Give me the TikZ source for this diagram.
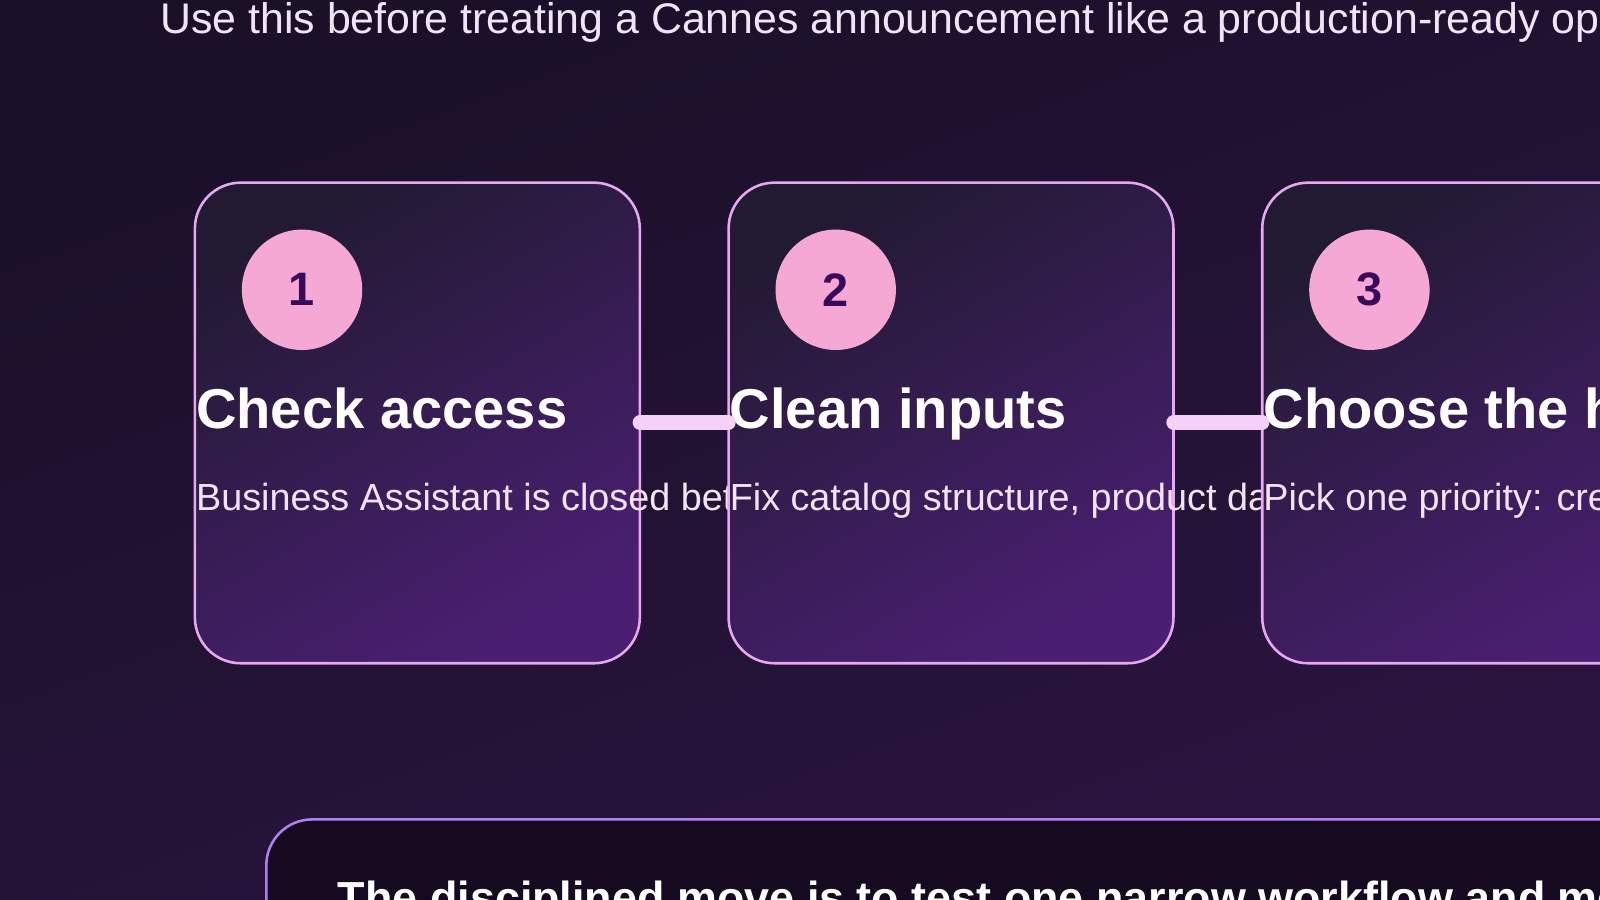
\documentclass[tikz,border=0pt]{standalone}
\usepackage{fontspec}
\setmainfont{Liberation Sans}
\usetikzlibrary{positioning}
\definecolor{bgdark}{HTML}{1A1028}
\definecolor{bgmid}{HTML}{2A1440}
\definecolor{cardtl}{HTML}{221A33}
\definecolor{cardbr}{HTML}{4A1F72}
\definecolor{cardline}{HTML}{E8A8F0}
\definecolor{badge}{HTML}{F5A8D4}
\definecolor{badgetext}{HTML}{3A0A5A}
\definecolor{linkcol}{HTML}{F5D0F8}
\definecolor{bodytext}{HTML}{F2E4F6}
\definecolor{notefill}{HTML}{150A20}
\definecolor{noteline}{HTML}{B080F0}
\begin{document}
\begin{tikzpicture}[x=1pt,y=-1pt]
	\tikzstyle{card}=[draw=cardline, line width=2.5pt, rounded corners=45pt, top color=cardtl, bottom color=cardbr, shading angle=30]
	\tikzstyle{badgec}=[circle, fill=badge, minimum size=118pt, inner sep=0pt, font=\fontsize{46}{52}\selectfont\bfseries, text=badgetext]
	\tikzstyle{heading}=[anchor=base west, inner sep=0pt, font=\fontsize{55}{62}\selectfont\bfseries, text=white]
	\tikzstyle{body}=[anchor=base west, inner sep=0pt, font=\fontsize{37}{43}\selectfont, text=bodytext]
	\tikzstyle{link}=[draw=linkcol, line width=14pt, line cap=round]
	
	% Background
	\useasboundingbox (0,0) rectangle (1568,882);
	\clip (0,0) rectangle (1568,882);
	\shade[top color=bgdark, bottom color=bgmid, shading angle=20] (0,0) rectangle (1568,882);
	
	% Title
	\node[anchor=base west, inner sep=0pt, font=\fontsize{42}{48}\selectfont, text=bodytext] (title) at (157,33)
	  {Use this before treating a Cannes announcement like a production-ready operating plan};
	
	% Cards
	\foreach \i/\x/\head/\txt in {1/191/{Check access}/{Business Assistant is closed beta for now},
	    2/714/{Clean inputs}/{Fix catalog structure, product data and feeds},
	    3/1237/{Choose the highest-value task}/{Pick one priority: creative, listings or support}} {
	  \draw[card] (\x,179) rectangle ++(436,471);
	  \node[badgec] (badge_\i) at (\x+105,284) {\raisebox{-3pt}{\i}};
	  \node[heading] (head_\i) at (\x+1,420) {\head};
	  \node[body] (body_\i) at (\x+1,500) {\txt};
	}
	
	% Connectors
	\coordinate (linkA_s) at (627,414);
	\coordinate (linkA_e) at (714,414);
	\coordinate (linkB_s) at (1150,414);
	\coordinate (linkB_e) at (1237,414);
	\draw[link] (linkA_s) -- (linkA_e);
	\draw[link] (linkB_s) -- (linkB_e);
	
	% Bottom note
	\draw[draw=noteline, line width=2.5pt, fill=notefill, rounded corners=45pt] (261,803) rectangle (1700,1000);
	\node[heading, font=\fontsize{44}{50}\selectfont\bfseries] (note) at (331,895)
	  {The disciplined move is to test one narrow workflow and measure it};
\end{tikzpicture}
\end{document}
